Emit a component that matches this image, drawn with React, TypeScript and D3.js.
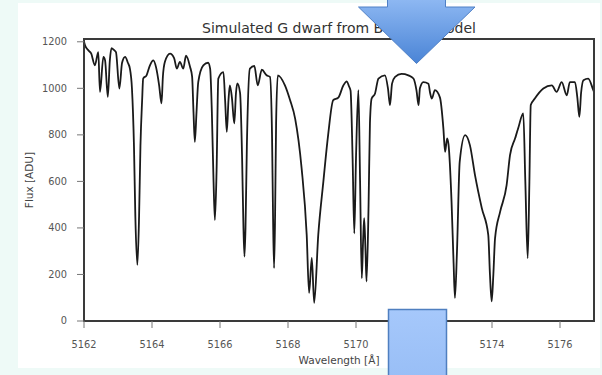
import React from "react";
import * as d3 from "d3";

const title = "Simulated G dwarf from BT-Settl model";
const xLabel = "Wavelength [Å]";
const yLabel = "Flux [ADU]";
const xTicks = [5162, 5164, 5166, 5168, 5170, 5172, 5174, 5176];
const yTicks = [0, 200, 400, 600, 800, 1000, 1200];

const wavelength = [
  5162.0, 5162.03, 5162.13, 5162.21, 5162.32, 5162.42, 5162.47, 5162.57, 5162.62, 5162.7,
  5162.76, 5162.81, 5162.88, 5162.94, 5163.04, 5163.12, 5163.21, 5163.29, 5163.35, 5163.41,
  5163.47, 5163.51, 5163.57, 5163.62, 5163.66, 5163.71, 5163.74, 5163.84, 5163.94, 5164.04,
  5164.12, 5164.21, 5164.28, 5164.32, 5164.38, 5164.53, 5164.65, 5164.73, 5164.82, 5164.92,
  5165.0, 5165.12, 5165.18, 5165.22, 5165.26, 5165.31, 5165.36, 5165.51, 5165.65, 5165.71,
  5165.76, 5165.81, 5165.85, 5165.9, 5165.95, 5166.1, 5166.15, 5166.2, 5166.25, 5166.29,
  5166.35, 5166.42, 5166.47, 5166.51, 5166.59, 5166.65, 5166.69, 5166.72, 5166.75, 5166.79,
  5166.88, 5167.01, 5167.11, 5167.23, 5167.37, 5167.47, 5167.53, 5167.56, 5167.59, 5167.62,
  5167.65, 5167.7, 5167.91, 5168.06, 5168.21, 5168.4, 5168.55, 5168.62, 5168.7, 5168.77,
  5168.89, 5169.04, 5169.18, 5169.33, 5169.48, 5169.63, 5169.73, 5169.79, 5169.84, 5169.9,
  5169.95, 5170.0, 5170.07, 5170.12, 5170.17, 5170.21, 5170.24, 5170.28, 5170.31, 5170.37,
  5170.41, 5170.46, 5170.56, 5170.66, 5170.85, 5170.94, 5171.0, 5171.06, 5171.15, 5171.34,
  5171.54, 5171.69, 5171.78, 5171.84, 5171.88, 5171.98, 5172.13, 5172.18, 5172.23, 5172.32,
  5172.47, 5172.57, 5172.62, 5172.68, 5172.72, 5172.81, 5172.87, 5172.91, 5172.97, 5173.05,
  5173.21, 5173.35, 5173.5, 5173.7, 5173.89, 5173.94, 5173.99, 5174.04, 5174.09, 5174.24,
  5174.43, 5174.53, 5174.68, 5174.77, 5174.92, 5174.98, 5175.05, 5175.1, 5175.14, 5175.26,
  5175.51, 5175.76, 5175.9, 5176.05, 5176.2, 5176.29, 5176.44, 5176.51, 5176.57, 5176.62,
  5176.69, 5176.83, 5176.98, 5177.0,
];

const flux = [
  1200, 1185, 1163, 1150, 1099, 1156, 985, 1135, 1120, 963,
  1120, 1173, 1165, 1156, 999, 1110, 1135, 1110, 1085, 1000,
  750, 450, 241, 450, 750, 950, 1042, 1056, 1099, 1120,
  1090, 1013, 935, 1050, 1114, 1149, 1130, 1085, 1114, 1085,
  1140, 1092, 1050, 900, 770, 900, 1027, 1099, 1110, 1085,
  900, 600, 434, 650, 1042, 1070, 950, 813, 950, 1013,
  960, 849, 980, 1021, 980, 700, 400, 277, 400, 750,
  1085, 1096, 1013, 1080, 1056, 1049, 800, 450, 227, 450,
  850, 1056, 1013, 950, 870, 657, 370, 121, 271, 78,
  370, 599, 799, 949, 960, 1013, 1030, 1010, 990, 700,
  377, 700, 992, 600, 184, 350, 442, 300, 170, 500,
  850, 956, 978, 1042, 1056, 1000, 928, 1020, 1049, 1062,
  1056, 1042, 990, 928, 1000, 1027, 1020, 980, 956, 992,
  960, 828, 727, 785, 760, 513, 250, 99, 300, 684,
  799, 756, 627, 485, 370, 200, 84, 200, 356, 470,
  584, 713, 785, 828, 892, 600, 270, 600, 928, 956,
  999, 1013, 985, 1027, 970, 1027, 1027, 960, 877, 980,
  1035, 1042, 992, 985,
];

const W = 602;
const H = 375;
const plot = { left: 84, right: 594, top: 39, bottom: 321 };

export default function App() {
  const x = d3.scaleLinear().domain([5162, 5177]).range([plot.left, plot.right]);
  const y = d3.scaleLinear().domain([0, 1212]).range([plot.bottom, plot.top]);
  const pts: [number, number][] = wavelength.map((w, i) => [w, flux[i]]);
  const line = d3
    .line<[number, number]>()
    .x((d) => x(d[0]))
    .y((d) => y(d[1]))
    .curve(d3.curveMonotoneX);
  const font = "'DejaVu Sans', sans-serif";
  const cx = (plot.left + plot.right) / 2;
  const cy = (plot.top + plot.bottom) / 2;
  return (
    <svg
      width={W}
      height={H}
      viewBox={`0 0 ${W} ${H}`}
      style={{ position: "fixed", left: 0, top: 0, display: "block" }}
    >
      <defs>
        <linearGradient id="arrowGrad" x1="0" y1="0" x2="0" y2="1">
          <stop offset="0" stopColor="#8fb9f3" />
          <stop offset="1" stopColor="#4a84d6" />
        </linearGradient>
        <linearGradient id="rectGrad" x1="0" y1="0" x2="0" y2="1">
          <stop offset="0" stopColor="#a6c8fb" />
          <stop offset="1" stopColor="#98bef6" />
        </linearGradient>
        <clipPath id="plotClip">
          <rect x={plot.left} y={plot.top - 2} width={plot.right - plot.left} height={plot.bottom - plot.top + 2} />
        </clipPath>
      </defs>
      <rect x={0} y={0} width={W} height={H} fill="#eefaf7" />
      <rect x={18} y={3} width={582} height={365} fill="#ffffff" />

      <text x={cx} y={33} textAnchor="middle" fontFamily={font} fontSize={14} fill="#333">
        {title}
      </text>

      <path
        d={line(pts) || ""}
        fill="none"
        stroke="#1a1a1a"
        strokeWidth={1.8}
        strokeLinejoin="round"
        clipPath="url(#plotClip)"
      />

      <rect
        x={plot.left}
        y={plot.top}
        width={plot.right - plot.left}
        height={plot.bottom - plot.top}
        fill="none"
        stroke="#3a3a3a"
        strokeWidth={2}
      />

      {yTicks.map((t) => (
        <g key={`y${t}`}>
          <line x1={plot.left - 7} x2={plot.left} y1={y(t)} y2={y(t)} stroke="#777" strokeWidth={1} />
          <text
            x={67}
            y={y(t)}
            dy="0.35em"
            textAnchor="end"
            fontFamily={font}
            fontSize={9.8}
            fill="#555"
          >
            {t}
          </text>
        </g>
      ))}

      {xTicks.map((t) => (
        <g key={`x${t}`}>
          <line x1={x(t)} x2={x(t)} y1={plot.bottom} y2={plot.bottom + 7} stroke="#777" strokeWidth={1} />
          <text
            x={x(t)}
            y={348}
            textAnchor="middle"
            fontFamily={font}
            fontSize={9.8}
            fill="#555"
          >
            {t}
          </text>
        </g>
      ))}

      <text x={cx} y={364} textAnchor="middle" fontFamily={font} fontSize={10.5} fill="#444">
        {xLabel}
      </text>
      <text
        transform={`translate(33,${cy}) rotate(-90)`}
        textAnchor="middle"
        fontFamily={font}
        fontSize={10.5}
        fill="#444"
      >
        {yLabel}
      </text>

      <path
        d="M387.5,-2 L445.5,-2 L445.5,7 L475,7 L416.5,63.5 L358.5,7 L387.5,7 Z"
        fill="url(#arrowGrad)"
        stroke="#4f80c6"
        strokeWidth={1}
      />
      <rect x={388.5} y={309.5} width={58} height={70} fill="url(#rectGrad)" stroke="#4f7fc0" strokeWidth={1.5} />
    </svg>
  );
}
